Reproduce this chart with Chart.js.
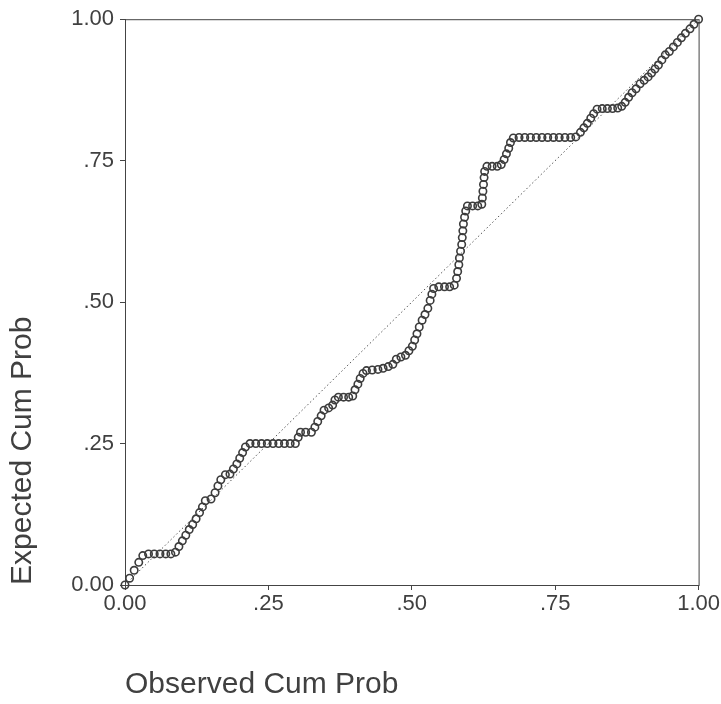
<!DOCTYPE html>
<html>
<head>
<meta charset="utf-8">
<script src="https://cdn.jsdelivr.net/npm/chart.js@4/dist/chart.umd.min.js"></script>
<style>
  html, body { margin: 0; padding: 0; background: #fff; }
  #wrap { width: 721px; height: 704px; }
</style>
</head>
<body>
<div id="wrap"><canvas id="ppChart" width="721" height="704"></canvas></div>
<script>
// Observed vs expected cumulative probability
var obsCumProb = [
    0, 0.008, 0.016, 0.024, 0.031,
    0.041, 0.051, 0.061, 0.071, 0.080, 0.088,
    0.094, 0.100, 0.106, 0.112, 0.118, 0.124, 0.130, 0.135, 0.140,
    0.150, 0.157, 0.162, 0.167, 0.175, 0.183,
    0.189, 0.195, 0.200, 0.205, 0.210,
    0.218, 0.228, 0.238, 0.248, 0.258, 0.268, 0.278, 0.288, 0.297,
    0.302, 0.306, 0.315, 0.325,
    0.331, 0.336, 0.342, 0.347, 0.355, 0.362, 0.366, 0.372, 0.381, 0.390, 0.397,
    0.401, 0.406, 0.410, 0.415, 0.421, 0.431, 0.441, 0.450, 0.459, 0.467, 0.473, 0.481,
    0.489, 0.495, 0.501, 0.505, 0.509, 0.513, 0.518, 0.523, 0.528, 0.532, 0.535, 0.538,
    0.547, 0.557, 0.566, 0.574,
    0.578, 0.580, 0.582, 0.583, 0.585, 0.587, 0.588, 0.589, 0.590, 0.592, 0.594, 0.597,
    0.606, 0.615, 0.622,
    0.623, 0.624, 0.625, 0.626, 0.627, 0.631, 0.640, 0.649, 0.656,
    0.661, 0.665, 0.669, 0.672, 0.677, 0.687, 0.697, 0.707, 0.717, 0.727, 0.737, 0.747,
    0.757, 0.767, 0.777, 0.786,
    0.794, 0.800, 0.806, 0.812, 0.817, 0.823, 0.832, 0.841, 0.850, 0.859, 0.866,
    0.872, 0.878, 0.884, 0.891, 0.898, 0.905, 0.912, 0.918, 0.924, 0.930, 0.936, 0.942,
    0.949, 0.956, 0.963, 0.970, 0.977, 0.985, 0.992, 1.000
];
var expCumProb = [
    0, 0.012, 0.026, 0.040, 0.052,
    0.055, 0.055, 0.055, 0.055, 0.055, 0.058,
    0.068, 0.078, 0.088, 0.098, 0.107, 0.117, 0.128, 0.138, 0.149,
    0.152, 0.163, 0.175, 0.186, 0.195, 0.196,
    0.205, 0.214, 0.224, 0.234, 0.244,
    0.250, 0.250, 0.250, 0.250, 0.250, 0.250, 0.250, 0.250, 0.250,
    0.261, 0.270, 0.270, 0.270,
    0.279, 0.289, 0.299, 0.309, 0.313, 0.318, 0.327, 0.332, 0.332, 0.332, 0.334,
    0.345, 0.355, 0.365, 0.374, 0.379, 0.380, 0.381, 0.383, 0.386, 0.390, 0.399, 0.403,
    0.406, 0.414, 0.422, 0.433, 0.444, 0.456, 0.468, 0.478, 0.489, 0.503, 0.514, 0.524,
    0.527, 0.527, 0.527, 0.530,
    0.542, 0.554, 0.566, 0.578, 0.590, 0.602, 0.614, 0.626, 0.638, 0.650, 0.661, 0.670,
    0.670, 0.670, 0.673,
    0.684, 0.696, 0.708, 0.720, 0.731, 0.740, 0.740, 0.740, 0.743,
    0.752, 0.762, 0.772, 0.782, 0.790, 0.791, 0.791, 0.791, 0.791, 0.791, 0.791, 0.791,
    0.791, 0.791, 0.791, 0.792,
    0.800, 0.808, 0.816, 0.825, 0.833, 0.841, 0.842, 0.842, 0.842, 0.843, 0.846,
    0.853, 0.862, 0.870, 0.877, 0.886, 0.892, 0.898, 0.905, 0.912, 0.919, 0.928, 0.937,
    0.943, 0.951, 0.959, 0.967, 0.975, 0.983, 0.991, 1.000
];
// diagonal reference line
var refLineX = [0, 1];
var refLineY = [0, 1];
// tick labels (same on both axes)
var tickLabels = ['0.00', '.25', '.50', '.75', '1.00'];

var ppPoints = obsCumProb.map(function (x, i) { return { x: x, y: expCumProb[i] }; });
var refPoints = refLineX.map(function (x, i) { return { x: x, y: refLineY[i] }; });

var inkColor = '#404040';
var fontFamily = '"Liberation Sans", Arial, sans-serif';

// box around the plot area (top and right sides are not drawn by the axes)
var framePlugin = {
    id: 'frame',
    beforeDatasetsDraw: function (chart) {
        var a = chart.chartArea;
        var ctx = chart.ctx;
        ctx.save();
        ctx.strokeStyle = '#444';
        ctx.lineWidth = 1;
        ctx.strokeRect(a.left + 0.5, a.top + 0.5, a.right - a.left, a.bottom - a.top);
        ctx.restore();
    }
};

var ctx = document.getElementById('ppChart').getContext('2d');
var ppChart = new Chart(ctx, {
    type: 'scatter',
    data: {
        datasets: [
            {
                label: 'P-P',
                data: ppPoints,
                showLine: false,
                pointStyle: 'circle',
                pointRadius: 3.7,
                pointBorderWidth: 1.6,
                pointBorderColor: '#3c3c3c',
                pointBackgroundColor: 'rgba(255,255,255,0)',
                clip: false,
                order: 1
            },
            {
                label: 'reference',
                type: 'line',
                data: refPoints,
                borderColor: '#555',
                borderWidth: 1,
                borderDash: [1.5, 2.5],
                pointRadius: 0,
                fill: false,
                order: 2
            }
        ]
    },
    options: {
        responsive: false,
        maintainAspectRatio: false,
        animation: false,
        layout: {
            padding: { top: 18, right: 22, left: 0, bottom: 0 }
        },
        plugins: {
            legend: { display: false },
            tooltip: { enabled: false }
        },
        scales: {
            x: {
                type: 'linear',
                min: 0,
                max: 1,
                afterFit: function (scale) { scale.height = 119; },
                ticks: {
                    stepSize: 0.25,
                    padding: 1,
                    color: inkColor,
                    font: { family: fontFamily, size: 22 },
                    maxRotation: 0,
                    callback: function (value, index) { return tickLabels[index]; }
                },
                grid: { drawOnChartArea: false, drawTicks: true, tickLength: 5, color: '#444' },
                border: { color: '#444', width: 1 },
                title: {
                    display: true,
                    text: 'Observed Cum Prob',
                    align: 'start',
                    color: inkColor,
                    font: { family: fontFamily, size: 30 },
                    padding: { top: 0, bottom: 1 }
                }
            },
            y: {
                type: 'linear',
                min: 0,
                max: 1,
                afterFit: function (scale) { scale.width = 125; },
                ticks: {
                    stepSize: 0.25,
                    padding: 6,
                    color: inkColor,
                    font: { family: fontFamily, size: 22 },
                    callback: function (value, index) { return tickLabels[index]; }
                },
                grid: { drawOnChartArea: false, drawTicks: true, tickLength: 5, color: '#444' },
                border: { color: '#444', width: 1 },
                title: {
                    display: true,
                    text: 'Expected Cum Prob',
                    align: 'start',
                    color: inkColor,
                    font: { family: fontFamily, size: 30 },
                    padding: { top: 5, bottom: 0 }
                }
            }
        }
    },
    plugins: [framePlugin]
});
</script>
</body>
</html>
